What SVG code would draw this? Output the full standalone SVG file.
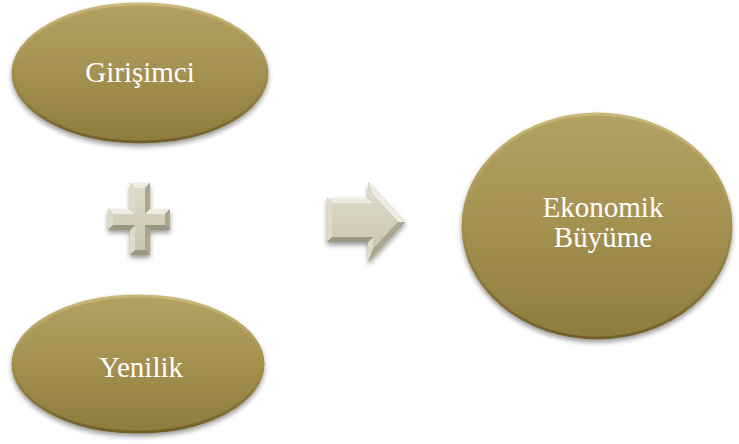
<svg xmlns="http://www.w3.org/2000/svg" width="739" height="444" viewBox="0 0 739 444">
<style>
.lbl{font-family:"Liberation Serif","Times New Roman",serif;font-size:29px;fill:#ffffff;text-anchor:middle}
.oval{fill:url(#gold);stroke:url(#rim);stroke-width:3;filter:url(#sh)}
.ft{fill:#efece1}.fl{fill:#dedac9}.fr{fill:#aaa690}.fb{fill:#9b9781}
.face{fill:url(#silver)}
</style>
<defs>
<linearGradient id="gold" x1="0" y1="0" x2="0" y2="1">
<stop offset="0" stop-color="#b3a262"/>
<stop offset="0.5" stop-color="#a49150"/>
<stop offset="1" stop-color="#8e7c3e"/>
</linearGradient>
<linearGradient id="rim" x1="0" y1="0" x2="0" y2="1">
<stop offset="0" stop-color="#c8b879"/>
<stop offset="0.5" stop-color="#a28f4e"/>
<stop offset="1" stop-color="#70602b"/>
</linearGradient>
<linearGradient id="silver" x1="0" y1="0" x2="0" y2="1">
<stop offset="0" stop-color="#dedac8"/>
<stop offset="1" stop-color="#c9c5b0"/>
</linearGradient>
<filter id="sh" x="-10%" y="-10%" width="120%" height="125%">
<feDropShadow dx="0" dy="3" stdDeviation="2.5" flood-color="#000" flood-opacity="0.4"/>
</filter>
</defs>
<g id="node-girisimci">
<ellipse class="oval" cx="140" cy="73" rx="127" ry="69"/>
<text class="lbl" x="140" y="82">Girişimci</text>
</g>
<g id="node-yenilik">
<ellipse class="oval" cx="138" cy="364" rx="125" ry="68"/>
<text class="lbl" x="141" y="377">Yenilik</text>
</g>
<g id="node-ekonomik">
<ellipse class="oval" cx="597" cy="226" rx="134" ry="112"/>
<text class="lbl" x="603" y="217">Ekonomik</text>
<text class="lbl" x="603" y="247">Büyüme</text>
</g>
<g id="connectors">
<g id="plus" filter="url(#sh)">
<polygon class="fb" points="130,183 150,183 150,209 170,209 170,230 150,230 150,255 130,255 130,230 108,230 108,209 130,209"/>
<polygon class="ft" points="130,183 150,183 145,188 135,188"/>
<polygon class="fr" points="150,183 150,209 145,214 145,188"/>
<polygon class="ft" points="150,209 170,209 165,214 145,214"/>
<polygon class="fr" points="170,209 170,230 165,225 165,214"/>
<polygon class="fb" points="170,230 150,230 145,225 165,225"/>
<polygon class="fr" points="150,230 150,255 145,250 145,225"/>
<polygon class="fb" points="150,255 130,255 135,250 145,250"/>
<polygon class="fl" points="130,255 130,230 135,225 135,250"/>
<polygon class="fb" points="130,230 108,230 113,225 135,225"/>
<polygon class="fl" points="108,230 108,209 113,214 113,225"/>
<polygon class="ft" points="108,209 130,209 135,214 113,214"/>
<polygon class="fl" points="130,209 130,183 135,188 135,214"/>
<polygon class="face" points="135,188 145,188 145,214 165,214 165,225 145,225 145,250 135,250 135,225 113,225 113,214 135,214"/>
</g>
<g id="arrow" filter="url(#sh)">
<polygon class="fb" points="327,198 368,198 368,182 405,222 368,262 368,242 327,242"/>
<polygon class="ft" points="327,198 368,198 373,203 332,203"/>
<polygon class="fl" points="368,198 368,182 373,195 373,203"/>
<polygon class="ft" points="368,182 405,222 398,222 373,195"/>
<polygon class="fr" points="405,222 368,262 373,249 398,222"/>
<polygon class="fl" points="368,262 368,242 373,237 373,249"/>
<polygon class="fb" points="368,242 327,242 332,237 373,237"/>
<polygon class="fl" points="327,242 327,198 332,203 332,237"/>
<polygon class="face" points="332,203 373,203 373,195 398,222 373,249 373,237 332,237"/>
</g>
</g>
</svg>
